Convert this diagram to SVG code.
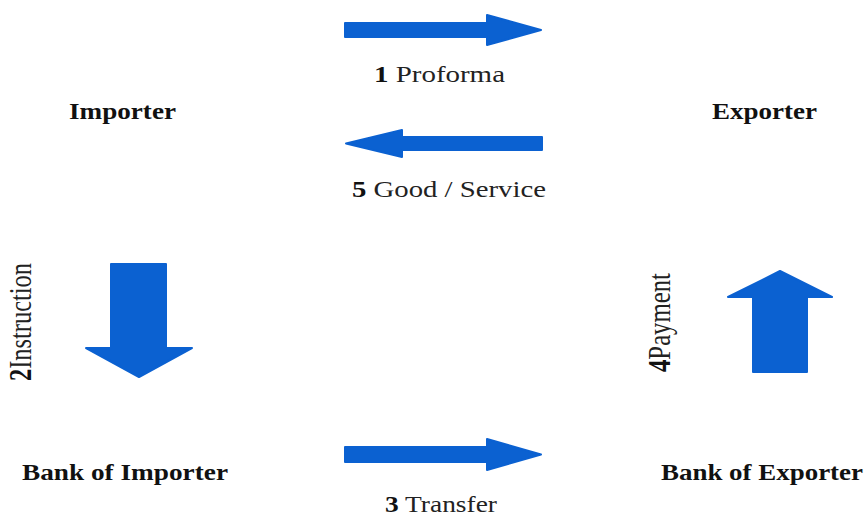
<svg xmlns="http://www.w3.org/2000/svg" width="868" height="517" viewBox="0 0 868 517">
<style>
.arrow{fill:#0b61d1;stroke:#0b61d1;stroke-width:2;stroke-linejoin:round}
.node{font-family:"Liberation Serif","Times New Roman",serif;font-weight:bold;font-size:23.5px;fill:#111}
.lbl{font-family:"Liberation Serif","Times New Roman",serif;font-size:23px;fill:#222}
.rot{font-family:"Liberation Serif","Times New Roman",serif;font-size:24.5px;fill:#222}
.b{font-weight:bold;fill:#111}
</style>
<rect width="868" height="517" fill="#fff"/>
<g id="importer"><text class="node" x="69" y="119" textLength="107" lengthAdjust="spacingAndGlyphs">Importer</text></g>
<g id="exporter"><text class="node" x="712" y="119" textLength="105" lengthAdjust="spacingAndGlyphs">Exporter</text></g>
<g id="bank-importer"><text class="node" x="22" y="480" textLength="206" lengthAdjust="spacingAndGlyphs">Bank of Importer</text></g>
<g id="bank-exporter"><text class="node" x="661" y="480" textLength="202" lengthAdjust="spacingAndGlyphs">Bank of Exporter</text></g>
<g id="connectors">
<g id="c1">
<polygon class="arrow" points="345,23 487,23 487,15 541,30 487,45 487,37 345,37"/>
<text class="lbl" x="374" y="82" textLength="131" lengthAdjust="spacingAndGlyphs"><tspan class="b">1</tspan> Proforma</text>
</g>
<g id="c5">
<polygon class="arrow" points="346,143.5 402,130 402,137 542,137 542,150 402,150 402,157"/>
<text class="lbl" x="352" y="197" textLength="194" lengthAdjust="spacingAndGlyphs"><tspan class="b">5</tspan> Good / Service</text>
</g>
<g id="c2">
<polygon class="arrow" points="111,264 166,264 166,348 192,348 139,377 86,348 111,348"/>
<text class="rot" transform="translate(31,381) scale(1.25,1) rotate(-90)" textLength="118" lengthAdjust="spacingAndGlyphs"><tspan class="b">2</tspan>Instruction</text>
</g>
<g id="c4">
<polygon class="arrow" points="780,271 832,297 807,297 807,372 753,372 753,297 728,297"/>
<text class="rot" transform="translate(670,372) scale(1.25,1) rotate(-90)" textLength="99" lengthAdjust="spacingAndGlyphs"><tspan class="b">4</tspan>Payment</text>
</g>
<g id="c3">
<polygon class="arrow" points="345,447 487,447 487,439 541,454.5 487,470 487,462 345,462"/>
<text class="lbl" x="385" y="512" textLength="112" lengthAdjust="spacingAndGlyphs"><tspan class="b">3</tspan> Transfer</text>
</g>
</g>
</svg>
